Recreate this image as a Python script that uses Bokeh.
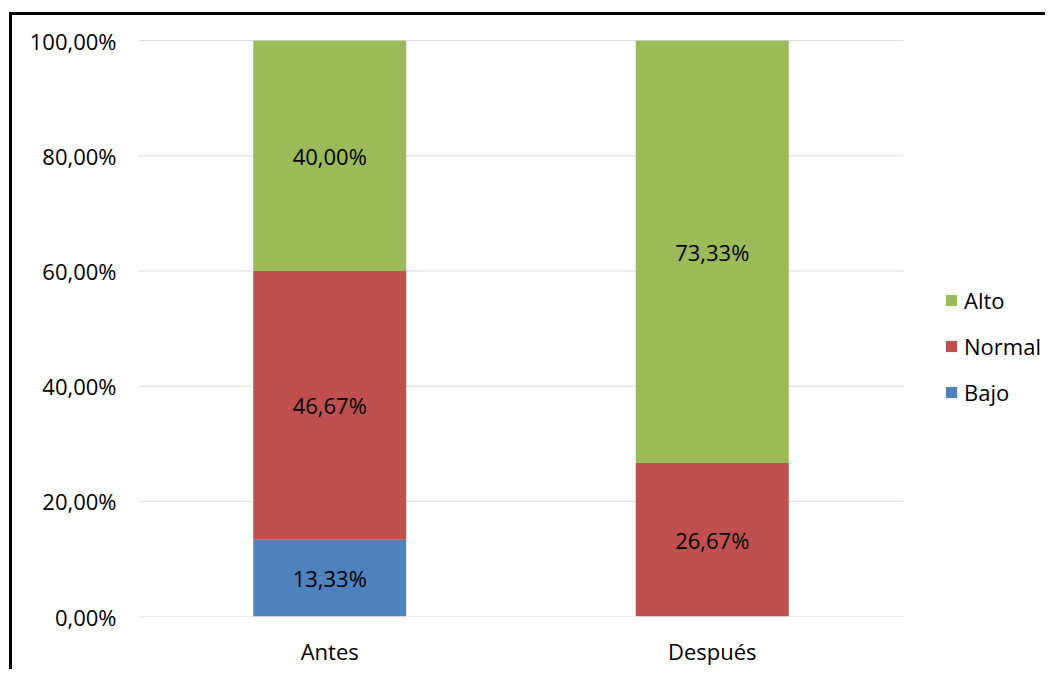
from bokeh.plotting import figure
from bokeh.models import ColumnDataSource, Legend, LegendItem, FixedTicker, Range1d
from bokeh.core.properties import value
from bokeh.embed import file_html
from bokeh.resources import INLINE

categories = ["Antes", "Después"]
bajo = [13.33, 0.0]
normal = [46.67, 26.67]
alto = [40.00, 73.33]
series_names = ["Bajo", "Normal", "Alto"]
colors = ["#4F81BD", "#C0504D", "#9BBB59"]
y_ticks = [0, 20, 40, 60, 80, 100]
y_tick_labels = ["0,00%", "20,00%", "40,00%", "60,00%", "80,00%", "100,00%"]

FONT = "Open Sans"
FS = "22px"

n = len(categories)
x_pos = [i + 0.5 for i in range(n)]

# frame extends to the right to hold the legend; category area is [0, n]
p = figure(x_range=Range1d(0, n * 910 / 765), y_range=Range1d(0, 100.2), width=1036, height=657,
           output_backend="svg", toolbar_location=None,
           min_border_left=126, min_border_right=0, min_border_top=24, min_border_bottom=56)
p.styles = {"border-left": "3px solid black", "border-top": "3px solid black",
            "margin-left": "9px", "margin-top": "12px"}

# horizontal gridlines over the category area only
p.segment(x0=[0] * len(y_ticks), x1=[n] * len(y_ticks), y0=y_ticks, y1=y_ticks,
          line_color="#D9D9D9", line_width=1)

src = ColumnDataSource(dict(x=x_pos, cat=categories, Bajo=bajo, Normal=normal, Alto=alto))
rs = p.vbar_stack(series_names, x="x", width=0.4, color=colors, source=src, line_width=0)

# data labels
lx, ly, lt = [], [], []
for i in range(n):
    base = 0.0
    for vals in (bajo, normal, alto):
        v = vals[i]
        if v > 0:
            lx.append(x_pos[i])
            ly.append(base + v / 2)
            lt.append(f"{v:.2f}%".replace(".", ","))
        base += v
p.text(x=lx, y=ly, text=lt, text_align="center", text_baseline="middle",
       text_font=value(FONT), text_font_size=FS, text_color="black")

legend = Legend(items=[LegendItem(label="Alto", renderers=[rs[2]]),
                       LegendItem(label="Normal", renderers=[rs[1]]),
                       LegendItem(label="Bajo", renderers=[rs[0]])],
                location=(806, 209))
legend.glyph_width = 14
legend.glyph_height = 14
legend.label_height = 30
legend.spacing = 16
legend.padding = 0
legend.margin = 0
legend.label_standoff = 6
legend.border_line_color = None
legend.background_fill_alpha = 0
legend.label_text_font = FONT
legend.label_text_font_size = FS
legend.label_text_color = "black"
p.add_layout(legend)

p.yaxis.ticker = FixedTicker(ticks=y_ticks)
p.yaxis.major_label_overrides = {t: l for t, l in zip(y_ticks, y_tick_labels)}
p.xaxis.ticker = FixedTicker(ticks=x_pos)
p.xaxis.major_label_overrides = {x: c for x, c in zip(x_pos, categories)}
for ax in (p.xaxis, p.yaxis):
    ax.axis_line_color = None
    ax.major_tick_line_color = None
    ax.minor_tick_line_color = None
    ax.major_label_text_font = FONT
    ax.major_label_text_font_size = FS
    ax.major_label_text_color = "black"
p.yaxis.major_label_standoff = 16
p.xaxis.major_label_standoff = 13
p.xgrid.grid_line_color = None
p.ygrid.grid_line_color = None
p.outline_line_color = None

open("out.html", "w").write(file_html(p, INLINE))
